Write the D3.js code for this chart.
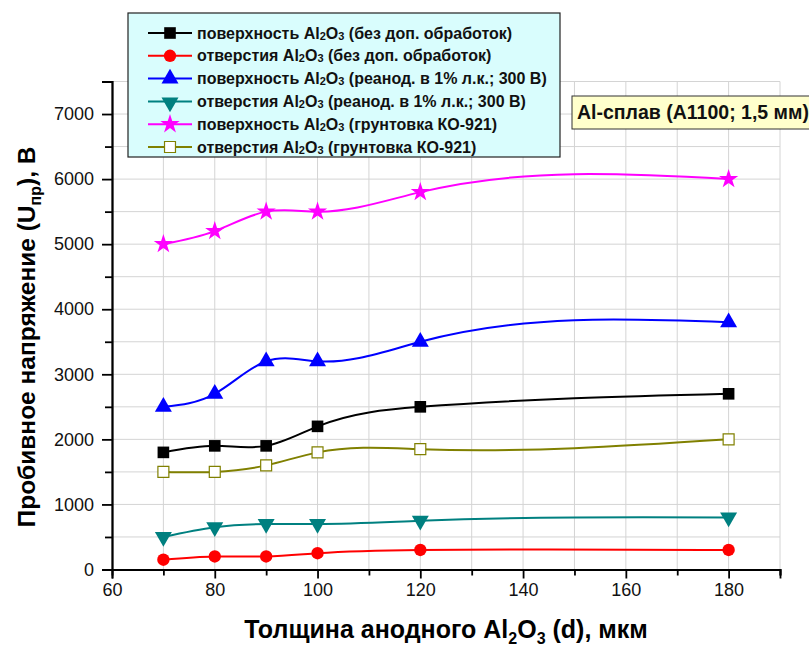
<!DOCTYPE html>
<html>
<head>
<meta charset="utf-8">
<script src="https://cdn.jsdelivr.net/npm/d3@7"></script>
<style>
  body { margin: 0; background: #fff; }
  svg { display: block; font-family: "Liberation Sans", Arial, sans-serif; }
</style>
</head>
<body>
<svg id="chart" width="809" height="647"></svg>
<script>
//---DATA
var thickness = [70, 80, 90, 100, 120, 180];
var surfPlain = [1800, 1900, 1900, 2200, 2500, 2700];
var holesPlain = [150, 200, 200, 250, 300, 300];
var surfReanod = [2500, 2700, 3200, 3200, 3500, 3800];
var holesReanod = [500, 650, 700, 700, 750, 800];
var surfPrimer = [5000, 5200, 5500, 5500, 5800, 6000];
var holesPrimer = [1500, 1500, 1600, 1800, 1850, 2000];

var seriesNames = [
  ['поверхность Al', 'O', ' (без доп. обработок)'],
  ['отверстия Al', 'O', ' (без доп. обработок)'],
  ['поверхность Al', 'O', ' (реанод. в 1% л.к.; 300 В)'],
  ['отверстия Al', 'O', ' (реанод. в 1% л.к.; 300 В)'],
  ['поверхность Al', 'O', ' (грунтовка КО-921)'],
  ['отверстия Al', 'O', ' (грунтовка КО-921)']
];
var xTicks = [60, 80, 100, 120, 140, 160, 180];
var yTicks = [0, 1000, 2000, 3000, 4000, 5000, 6000, 7000];

//---STYLES
var series = [
  { values: surfPlain, color: '#000000', sym: d3.symbolSquare, size: 135, fill: null, rot: 0 },
  { values: holesPlain, color: '#ff0000', sym: d3.symbolCircle, size: 120, fill: null, rot: 0 },
  { values: surfReanod, color: '#0000ff', sym: d3.symbolTriangle, size: 125, fill: null, rot: 0 },
  { values: holesReanod, color: '#008080', sym: d3.symbolTriangle, size: 125, fill: null, rot: 180 },
  { values: surfPrimer, color: '#ff00ff', sym: d3.symbolStar, size: 115, fill: null, rot: 0 },
  { values: holesPrimer, color: '#808000', sym: d3.symbolSquare, size: 120, fill: '#ffffff', rot: 0 }
];

var svg = d3.select('#chart');

//----SCALES
var x = d3.scaleLinear().domain([60, 190]).range([112, 780]);
var y = d3.scaleLinear().domain([0, 7500]).range([569.5, 81.5]);

//---CUSTOM CURVE: natural cubic spline y(x)
function SplineX(context) { this._context = context; }
SplineX.prototype = {
  areaStart: function() { this._line = 0; },
  areaEnd: function() { this._line = NaN; },
  lineStart: function() { this._px = []; this._py = []; },
  point: function(px, py) { this._px.push(+px); this._py.push(+py); },
  lineEnd: function() {
    var xs = this._px, ys = this._py, n = xs.length, ctx = this._context;
    if (!n) return;
    ctx.moveTo(xs[0], ys[0]);
    if (n < 3) { for (var k = 1; k < n; k++) ctx.lineTo(xs[k], ys[k]); return; }
    var h = [], i;
    for (i = 0; i < n - 1; i++) h.push(xs[i + 1] - xs[i]);
    // tridiagonal solve for second derivatives (natural ends)
    var a = [], b = [], c = [], r = [];
    for (i = 1; i < n - 1; i++) {
      a.push(h[i - 1]);
      b.push(2 * (h[i - 1] + h[i]));
      c.push(h[i]);
      r.push(6 * ((ys[i + 1] - ys[i]) / h[i] - (ys[i] - ys[i - 1]) / h[i - 1]));
    }
    var m = r.length;
    for (i = 1; i < m; i++) {
      var w = a[i] / b[i - 1];
      b[i] -= w * c[i - 1];
      r[i] -= w * r[i - 1];
    }
    var M = new Array(n).fill(0);
    M[m] = r[m - 1] / b[m - 1];
    for (i = m - 2; i >= 0; i--) M[i + 1] = (r[i] - c[i] * M[i + 2]) / b[i];
    for (i = 0; i < n - 1; i++) {
      var hi = h[i], sec = (ys[i + 1] - ys[i]) / hi;
      var s0 = sec - hi * (2 * M[i] + M[i + 1]) / 6;
      var s1 = sec + hi * (M[i] + 2 * M[i + 1]) / 6;
      ctx.bezierCurveTo(
        xs[i] + hi / 3, ys[i] + s0 * hi / 3,
        xs[i + 1] - hi / 3, ys[i + 1] - s1 * hi / 3,
        xs[i + 1], ys[i + 1]);
    }
  }
};
function curveSplineX(context) { return new SplineX(context); }

//---GRID
var grid = svg.append('g').attr('class', 'grid');
grid.selectAll('line.v')
  .data(d3.range(70, 191, 10))
  .join('line')
  .attr('class', 'v')
  .attr('x1', function(d) { return x(d); })
  .attr('x2', function(d) { return x(d); })
  .attr('y1', y(0))
  .attr('y2', y(7500))
  .style('stroke', '#d4d4d4')
  .style('stroke-width', 1);
grid.selectAll('line.h')
  .data(d3.range(500, 7501, 500))
  .join('line')
  .attr('class', 'h')
  .attr('x1', x(60))
  .attr('x2', x(190))
  .attr('y1', function(d) { return y(d); })
  .attr('y2', function(d) { return y(d); })
  .style('stroke', '#d4d4d4')
  .style('stroke-width', 1);

//---AXES
svg.append('g')
  .attr('transform', 'translate(0,' + y(0) + ')')
  .call(d3.axisBottom(x).tickValues(xTicks).tickSize(9).tickPadding(5).tickFormat(d3.format('d')));
svg.append('g')
  .attr('transform', 'translate(0,' + y(0) + ')')
  .call(d3.axisBottom(x).tickValues(d3.range(70, 191, 20)).tickSize(6).tickFormat(''));

svg.append('g')
  .attr('transform', 'translate(' + x(60) + ',0)')
  .call(d3.axisLeft(y).tickValues(yTicks).tickSize(10).tickPadding(8).tickFormat(d3.format('d')));
svg.append('g')
  .attr('transform', 'translate(' + x(60) + ',0)')
  .call(d3.axisLeft(y).tickValues(d3.range(500, 7501, 1000)).tickSize(7).tickFormat(''));

svg.selectAll('.domain').style('stroke', '#000').style('stroke-width', 1.8);
svg.selectAll('.tick line').style('stroke', '#000').style('stroke-width', 1.8);
svg.selectAll('.tick text')
  .style('font-size', '18px')
  .style('fill', '#111');

//---AXIS TITLES
var xTitle = svg.append('text')
  .attr('x', 446)
  .attr('y', 638)
  .attr('text-anchor', 'middle')
  .style('font-size', '25px')
  .style('font-weight', 'bold');
xTitle.append('tspan').text('Толщина анодного Al');
xTitle.append('tspan').attr('dy', 6).style('font-size', '16px').text('2');
xTitle.append('tspan').attr('dy', -6).text('O');
xTitle.append('tspan').attr('dy', 6).style('font-size', '16px').text('3');
xTitle.append('tspan').attr('dy', -6).text(' (d), мкм');

var yTitle = svg.append('text')
  .attr('transform', 'translate(35,' + 337 + ') rotate(-90)')
  .attr('text-anchor', 'middle')
  .style('font-size', '24.5px')
  .style('font-weight', 'bold');
yTitle.append('tspan').text('Пробивное напряжение (U');
yTitle.append('tspan').attr('dy', 6).style('font-size', '16px').text('пр');
yTitle.append('tspan').attr('dy', -6).text('), В');

//---LINES + MARKERS
var line = d3.line()
  .x(function(d) { return x(d[0]); })
  .y(function(d) { return y(d[1]); })
  .curve(curveSplineX);

series.forEach(function(s) {
  var pts = thickness.map(function(t, i) { return [t, s.values[i]]; });
  svg.append('path')
    .datum(pts)
    .attr('d', line)
    .style('fill', 'none')
    .style('stroke', s.color)
    .style('stroke-width', 2);
});

series.forEach(function(s) {
  var pts = thickness.map(function(t, i) { return [t, s.values[i]]; });
  svg.append('g').selectAll('path')
    .data(pts)
    .join('path')
    .attr('d', d3.symbol().type(s.sym).size(s.size))
    .attr('transform', function(d) {
      return 'translate(' + x(d[0]) + ',' + y(d[1]) + ') rotate(' + s.rot + ')';
    })
    .style('fill', s.fill || s.color)
    .style('stroke', s.fill ? s.color : 'none')
    .style('stroke-width', 1.2);
});

//---LEGEND
var legend = svg.append('g').attr('transform', 'translate(128,13)');
legend.append('rect')
  .attr('x', 0).attr('y', 0)
  .attr('width', 432).attr('height', 144)
  .style('fill', '#d9fdfd')
  .style('stroke', '#222')
  .style('stroke-width', 1.2);

series.forEach(function(s, i) {
  var row = legend.append('g').attr('transform', 'translate(0,' + (20 + i * 22.8) + ')');
  row.append('line')
    .attr('x1', 20).attr('x2', 64)
    .attr('y1', 0).attr('y2', 0)
    .style('stroke', s.color)
    .style('stroke-width', 2);
  row.append('path')
    .attr('d', d3.symbol().type(s.sym).size(s.size))
    .attr('transform', 'translate(42,' + (s.rot ? 1 : 0) + ') rotate(' + s.rot + ')')
    .style('fill', s.fill || s.color)
    .style('stroke', s.fill ? s.color : 'none')
    .style('stroke-width', 1.2);
  var t = row.append('text')
    .attr('x', 69)
    .attr('y', 5.5)
    .style('font-size', '16px')
    .style('font-weight', 'bold')
    .style('fill', '#111');
  var nm = seriesNames[i];
  t.append('tspan').text(nm[0]);
  t.append('tspan').attr('dy', 1).style('font-size', '11px').text('2');
  t.append('tspan').attr('dy', -1).text(nm[1]);
  t.append('tspan').attr('dy', 1).style('font-size', '11px').text('3');
  t.append('tspan').attr('dy', -1).text(nm[2]);
});

//---NOTE BOX
var note = svg.append('g').attr('transform', 'translate(572,96)');
note.append('rect')
  .attr('x', 0).attr('y', 0)
  .attr('width', 245).attr('height', 33)
  .style('fill', '#ffffcc')
  .style('stroke', '#333')
  .style('stroke-width', 1);
note.append('text')
  .attr('x', 5).attr('y', 23)
  .style('font-size', '19.5px')
  .style('font-weight', 'bold')
  .style('fill', '#111')
  .text('Al-сплав (A1100; 1,5 мм)');
</script>
</body>
</html>
